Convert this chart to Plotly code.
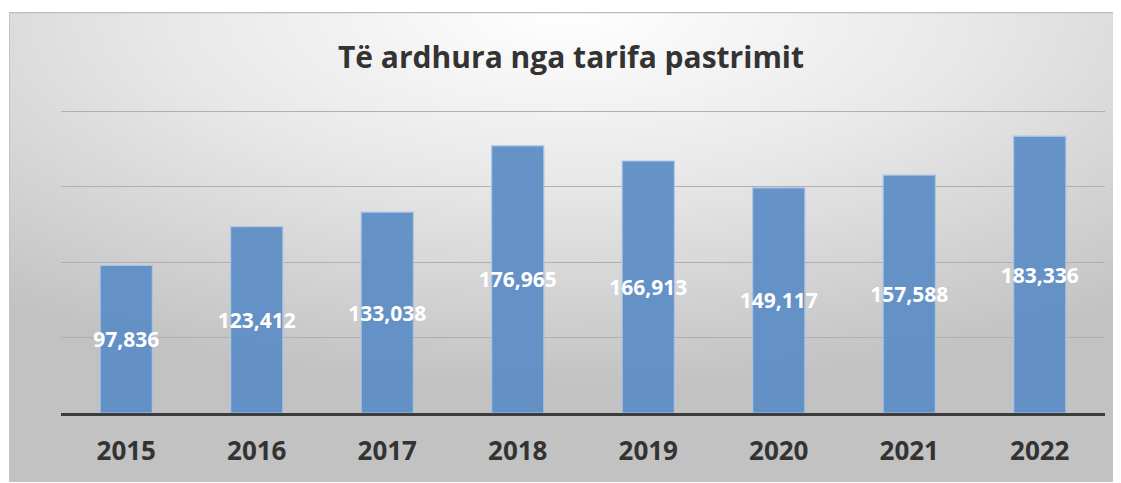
import base64
import plotly.graph_objects as go

# ---- data ----
years = ["2015", "2016", "2017", "2018", "2019", "2020", "2021", "2022"]
revenue = [97836, 123412, 133038, 176965, 166913, 149117, 157588, 183336]
title_text = "Të ardhura nga tarifa pastrimit"
y_max = 200000
y_top = 204000  # a little headroom so the top gridline is drawn

# ---- geometry (page renders with an 8px body offset) ----
OFF = 8
W, H = 1121, 483
base_px, top_grid_px = 413 - OFF, 111 - OFF
px_per_unit = (base_px - top_grid_px) / y_max
PL, PR = 61 - OFF, 1105 - OFF
PB = base_px
PT = base_px - round(px_per_unit * y_top)
ML, MR, MT, MB = PL, W - PR, PT, H - PB
pw, ph = PR - PL, PB - PT

def px_x(x):
    return (x - OFF - PL) / pw

def px_y(y):
    return (PB - (y - OFF)) / ph

# radial gradient background panel as an SVG image
svg = """<svg xmlns='http://www.w3.org/2000/svg' width='1112' height='470' viewBox='0 0 1112 470' preserveAspectRatio='none'>
<defs><radialGradient id='g' cx='50%' cy='0%' r='80%' fx='50%' fy='0%'>
<stop offset='0' stop-color='#ffffff'/><stop offset='0.45' stop-color='#e8e8e8'/><stop offset='1' stop-color='#c2c2c2'/></radialGradient></defs>
<rect x='0' y='0' width='1112' height='470' fill='url(#g)'/>
<line x1='0' y1='0.5' x2='1112' y2='0.5' stroke='#bcbcbc' stroke-width='1.5'/>
<line x1='0.5' y1='0' x2='0.5' y2='470' stroke='#c4c4c4' stroke-width='1'/>
</svg>"""
src = "data:image/svg+xml;base64," + base64.b64encode(svg.encode()).decode()

fig = go.Figure()
fig.add_trace(go.Bar(
    x=years, y=revenue,
    marker=dict(color="#5f8fc6", line=dict(color="#a9c4e6", width=1.2), opacity=0.95),
    texttemplate="%{y:,}",
    textposition="inside",
    insidetextanchor="middle",
    textangle=0,
    constraintext="none",
    textfont=dict(family="Open Sans", size=21, color="white", weight="bold"),
    cliponaxis=False,
    hoverinfo="skip",
))

fig.update_layout(
    width=W, height=H,
    margin=dict(l=ML, r=MR, t=MT, b=MB),
    paper_bgcolor="white",
    plot_bgcolor="rgba(0,0,0,0)",
    bargap=0.6,
    showlegend=False,
    title=dict(text=title_text, x=(571 - OFF) / W, xanchor="center", y=1 - (57 - OFF) / H,
               yanchor="middle", yref="container", xref="container",
               font=dict(family="Open Sans", size=30, color="#333333", weight="bold")),
    images=[dict(source=src, xref="paper", yref="paper",
                 x=px_x(9), y=px_y(12), sizex=px_x(W + OFF) - px_x(9), sizey=px_y(12) - px_y(482),
                 xanchor="left", yanchor="top", sizing="stretch", layer="below")],
    xaxis=dict(
        showline=True, linecolor="#3c3c3c", linewidth=3,
        ticks="outside", ticklen=13, tickcolor="rgba(0,0,0,0)",
        tickfont=dict(family="Open Sans", size=26, color="#333333", weight="bold"),
        showgrid=False, fixedrange=True,
    ),
    yaxis=dict(
        range=[0, y_top], tickvals=[50000, 100000, 150000, 200000],
        showgrid=True, gridcolor="#b0b0b0", gridwidth=1,
        showticklabels=False, zeroline=False, showline=False, fixedrange=True,
    ),
)

fig.write_html("out.html")
